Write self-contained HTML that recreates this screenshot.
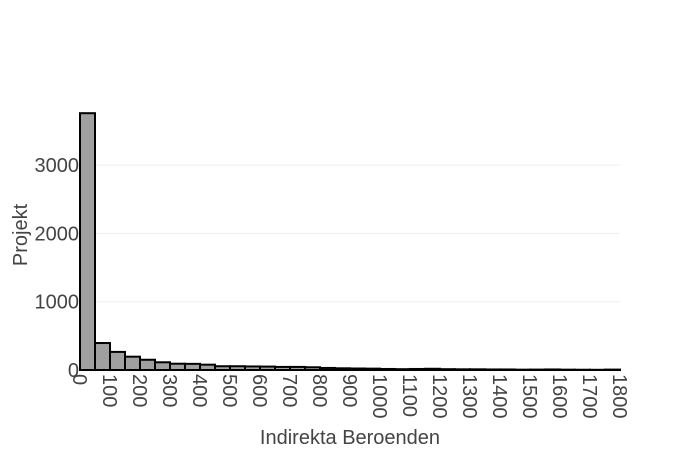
<!DOCTYPE html>
<html><head><meta charset="utf-8"><style>
body{margin:0;background:#fff;font-family:"Liberation Sans",sans-serif}
</style></head><body>
<svg id="c" width="700" height="450" xmlns="http://www.w3.org/2000/svg"></svg>
<script>
const binStart=[0,50,100,150,200,250,300,350,400,450,500,550,600,650,700,750,800,850,900,950,1000,1050,1100,1150,1200,1250,1300,1350,1400,1450,1500,1550,1600,1650,1700,1750];
const counts=[3760,395,265,195,150,113,92,90,78,55,55,52,50,45,45,40,30,25,22,20,15,12,15,18,12,10,10,8,8,5,6,8,5,4,3,6];
const yTicks=[0,1000,2000,3000];
const xTicks=[0,100,200,300,400,500,600,700,800,900,1000,1100,1200,1300,1400,1500,1600,1700,1800];
const binW=50;
const ns="http://www.w3.org/2000/svg",svg=document.getElementById('c');
const X0=80,X1=620,Y0=370,pxPer=68.3/1000;
const x=v=>X0+(v/1800)*(X1-X0);
const y=v=>Y0-v*pxPer;
function mk(t,a,txt){const e=document.createElementNS(ns,t);for(const k in a)e.setAttribute(k,a[k]);if(txt!==undefined)e.textContent=txt;svg.appendChild(e);return e;}
yTicks.forEach(t=>{
 if(t>0){const g=mk('line',{x1:X0,x2:X1,y1:y(t),y2:y(t),stroke:'#eee','stroke-width':1});
 
 }
 const l=mk('text',{x:X0-1,y:y(t)+7,'text-anchor':'end','font-size':20,fill:'#444'},t);
 
 
});
binStart.forEach((b,i)=>{
 const r=mk('rect',{x:x(b),y:y(counts[i]),width:x(b+binW)-x(b),height:Y0-y(counts[i]),fill:'#a0a0a0',stroke:'#000','stroke-width':2});
 
 
});
xTicks.forEach(t=>{
 const l=mk('text',{transform:`translate(${x(t)-7},${Y0+4}) rotate(90)`,'font-size':20,fill:'#444'},t);
 
 
});
const xt=mk('text',{x:350,y:444,'text-anchor':'middle','font-size':20,fill:'#444'},'Indirekta Beroenden');


const yt=mk('text',{transform:'translate(27,235) rotate(-90)','text-anchor':'middle','font-size':20,fill:'#444'},'Projekt');


</script>
</body></html>
